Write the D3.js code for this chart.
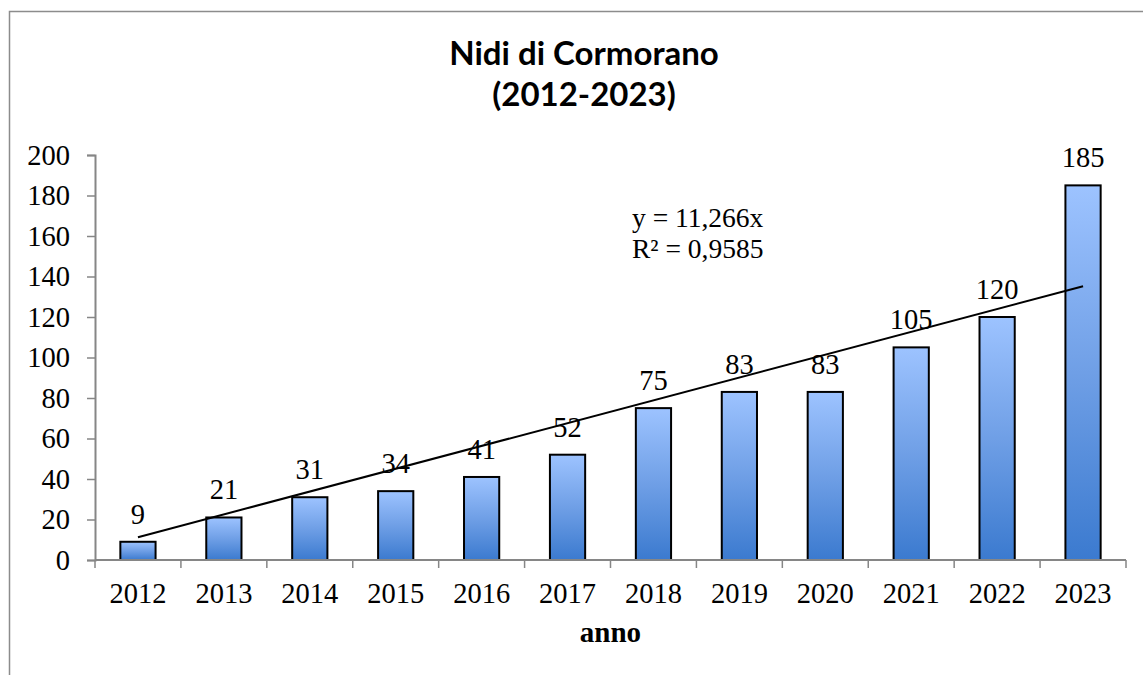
<!DOCTYPE html>
<html>
<head>
<meta charset="utf-8">
<script src="https://cdn.jsdelivr.net/npm/d3@7"></script>
<style>
	html, body { margin: 0; padding: 0; background: #fff; }
	svg { display: block; }
</style>
</head>
<body>
<div id="chart"></div>
<script>
// dati
var anni = ["2012", "2013", "2014", "2015", "2016", "2017", "2018", "2019", "2020", "2021", "2022", "2023"];
var nidi = [9, 21, 31, 34, 41, 52, 75, 83, 83, 105, 120, 185];
var yTicks = [0, 20, 40, 60, 80, 100, 120, 140, 160, 180, 200];
var trendSlope = 11.266; // y = 11,266x (x = 1..12)
var titolo = ["Nidi di Cormorano", "(2012-2023)"];
var equazione = ["y = 11,266x", "R² = 0,9585"];

;(function(d3){
	var width = 1143,
		height = 675,
		left = 95,
		right = 1126,
		top = 155,
		bottom = 560,
		fs = 28.5,
		serif = "'Liberation Serif', 'DejaVu Serif', serif";

	var svg = d3.select("#chart").append("svg")
		.attr("width", width)
		.attr("height", height);

	var defs = svg.append("defs");
	var grad = defs.append("linearGradient").attr("id", "barGrad")
		.attr("x1", 0).attr("y1", 0).attr("x2", 0).attr("y2", 1);
	grad.append("stop").attr("offset", "0%").attr("stop-color", "#9dc3ff");
	grad.append("stop").attr("offset", "50%").attr("stop-color", "#6f9fe6");
	grad.append("stop").attr("offset", "100%").attr("stop-color", "#3b7acf");

	// cornice esterna
	svg.append("rect").attr("x", 9.5).attr("y", 11.5)
		.attr("width", width).attr("height", height)
		.attr("fill", "none").attr("stroke", "#8c8c8c").attr("stroke-width", 1.5);

	var x = d3.scaleBand().domain(anni).range([left, right]).paddingInner(0.59).paddingOuter(0.295);
	var xb = d3.scaleBand().domain(anni).range([left, right]);
	var y = d3.scaleLinear().domain([0, 200]).range([bottom, top]);

	// titolo
	svg.append("text")
		.attr("x", 584).attr("y", 65)
		.attr("text-anchor", "middle")
		.attr("font-family", "Lato, 'Open Sans', sans-serif")
		.attr("font-weight", "bold")
		.attr("font-size", 33)
		.selectAll("tspan").data(titolo).enter().append("tspan")
		.attr("x", 584)
		.attr("dy", function(d, i){ return i ? 41 : 0; })
		.text(function(d){ return d; });

	// barre
	svg.append("g").selectAll("rect").data(nidi).enter().append("rect")
		.attr("x", function(d, i){ return x(anni[i]); })
		.attr("y", function(d){ return y(d); })
		.attr("width", x.bandwidth())
		.attr("height", function(d){ return y(0) - y(d); })
		.attr("fill", "url(#barGrad)")
		.attr("stroke", "#000")
		.attr("stroke-width", 2);

	// asse y
	var yAxis = svg.append("g").attr("transform", "translate(" + left + ",0)")
		.call(d3.axisLeft(y).tickValues(yTicks).tickSize(8).tickPadding(17));
	// asse x
	var xAxis = svg.append("g").attr("transform", "translate(0," + bottom + ")")
		.call(d3.axisBottom(xb).tickSize(0).tickPadding(24));
	[yAxis, xAxis].forEach(function(g){
		g.select(".domain").attr("stroke", "#868686").attr("stroke-width", 2);
		g.selectAll(".tick line").attr("stroke", "#868686").attr("stroke-width", 1.5);
		g.selectAll(".tick text").attr("fill", "#000")
			.attr("font-family", serif).attr("font-size", fs);
	});
	xAxis.select(".domain").attr("d", "M" + left + ",0H" + right);
	// tacche dell'asse x tra le categorie
	xAxis.selectAll(".sep").data(d3.range(anni.length + 1)).enter().append("line")
		.attr("x1", function(i){ return left + i * xb.step(); })
		.attr("x2", function(i){ return left + i * xb.step(); })
		.attr("y1", 0).attr("y2", 8)
		.attr("stroke", "#868686").attr("stroke-width", 1.5);
	xAxis.selectAll(".tick text").attr("dy", "0.66em");

	// etichette dei valori
	svg.append("g").selectAll("text").data(nidi).enter().append("text")
		.attr("x", function(d, i){ return xb(anni[i]) + xb.bandwidth() / 2; })
		.attr("y", function(d){ return y(d) - 18; })
		.attr("text-anchor", "middle")
		.attr("font-family", serif)
		.attr("font-size", fs)
		.text(function(d){ return d; });

	// linea di tendenza
	var line = d3.line()
		.x(function(d){ return xb(anni[d - 1]) + xb.bandwidth() / 2; })
		.y(function(d){ return y(trendSlope * d); });
	svg.append("path")
		.attr("d", line([1, anni.length]))
		.attr("fill", "none")
		.attr("stroke", "#000")
		.attr("stroke-width", 2);

	// equazione
	svg.append("text")
		.attr("font-family", serif)
		.attr("font-size", 27.5)
		.selectAll("tspan").data(equazione).enter().append("tspan")
		.attr("x", 632)
		.attr("y", function(d, i){ return 227 + i * 31; })
		.text(function(d){ return d; });

	// titolo asse x
	svg.append("text")
		.attr("x", (left + right) / 2).attr("y", 642)
		.attr("text-anchor", "middle")
		.attr("font-family", serif)
		.attr("font-weight", "bold")
		.attr("font-size", 29)
		.text("anno");
})(d3);
</script>
</body>
</html>
